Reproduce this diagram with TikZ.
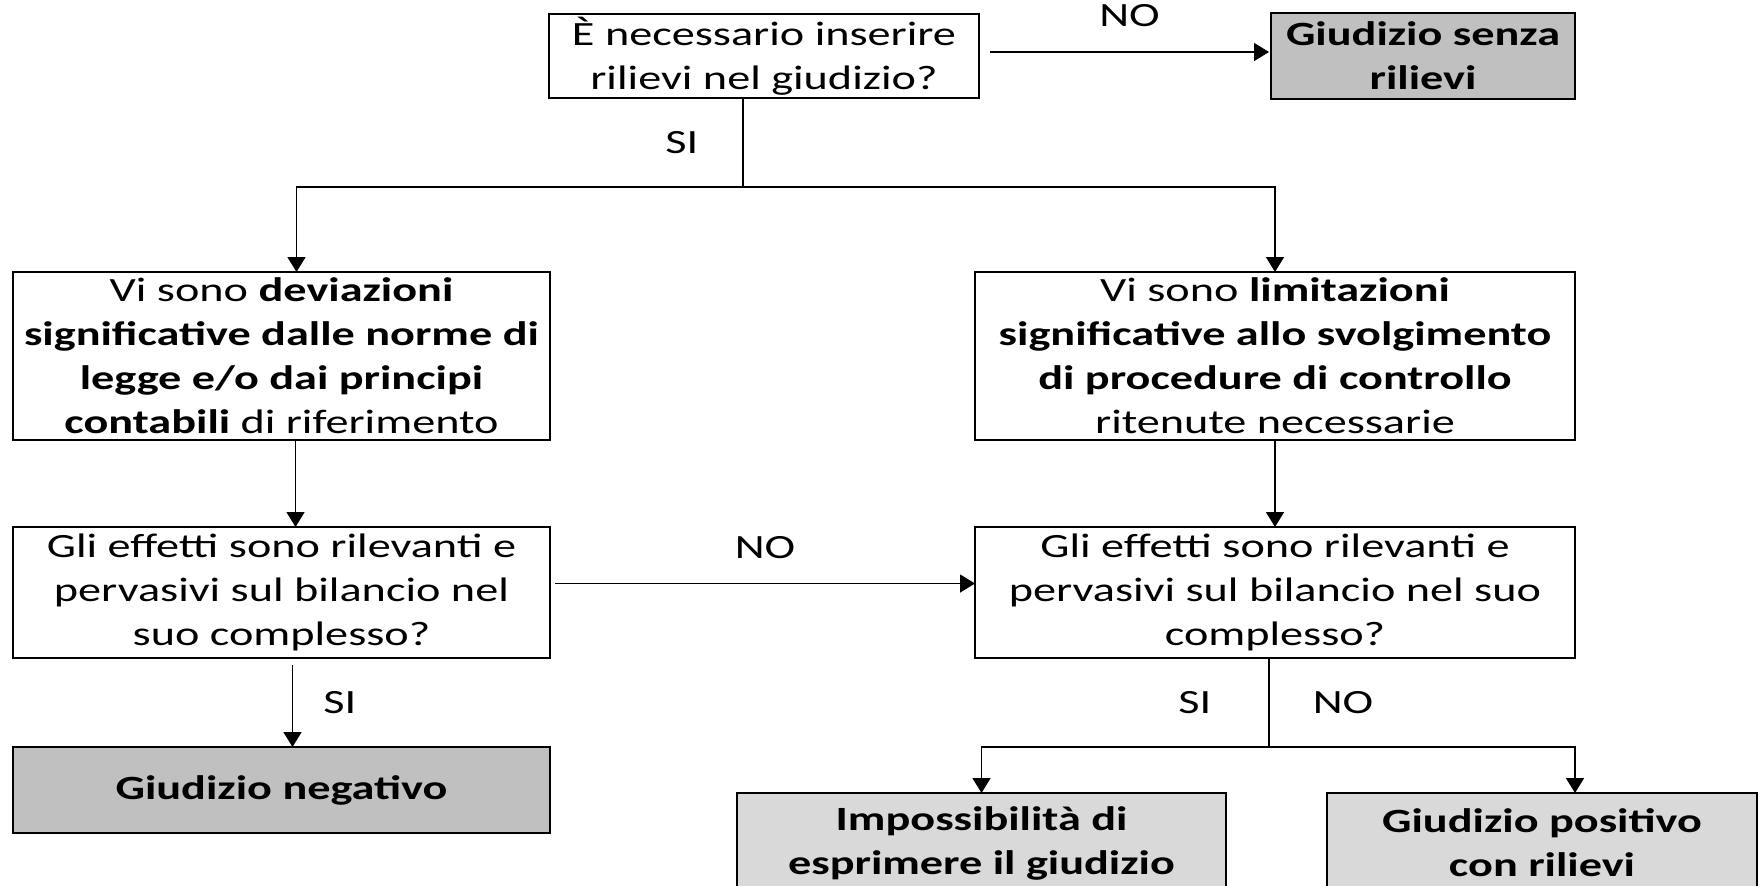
\documentclass[tikz,border=0pt]{standalone}
\usepackage{fontspec}
\setmainfont{Carlito}[FakeStretch=1.36]
\usepackage{tikz}
\usetikzlibrary{arrows.meta,positioning}
\definecolor{result grey}{HTML}{C0C0C0}
\definecolor{final grey}{HTML}{D9D9D9}
\tikzset{main node/.style={rectangle,draw,line width=2.7pt,inner sep=0pt,outer sep=0pt,align=center,font=\fontsize{34}{44}\selectfont},
         result node/.style={main node,fill=result grey,font=\fontsize{34}{44}\selectfont\bfseries},
         final node/.style={result node,fill=final grey},
         edge label/.style={rectangle,draw=none,fill=none,inner sep=0pt,font=\fontsize{34}{44}\selectfont}
}

\begin{document}
\begin{tikzpicture}[->,>={Triangle[length=15pt,width=18pt]},
x=1pt, y=-1pt,
line width=1.6pt]
\clip (0,0) rectangle (1764,886);

\node [main node, minimum width=430pt, minimum height=84pt] (0) at (764,56)
    {È necessario inserire\\ rilievi nel giudizio?};
\node [result node, minimum width=304pt, minimum height=86pt, right=292pt of 0] (1)
    {Giudizio senza\\ rilievi};
\node [main node, minimum width=537pt, minimum height=168pt] (2) at (281.5,356)
    {Vi sono \textbf{deviazioni}\\ \textbf{significative dalle norme di}\\
     \textbf{legge e/o dai principi}\\ \textbf{contabili} di riferimento};
\node [main node, minimum width=600pt, minimum height=168pt, right=425pt of 2] (3)
    {Vi sono \textbf{limitazioni}\\ \textbf{significative allo svolgimento}\\
     \textbf{di procedure di controllo}\\ ritenute necessarie};
\node [main node, minimum width=537pt, minimum height=131pt, below=87pt of 2] (4)
    {Gli effetti sono rilevanti e\\ pervasivi sul bilancio nel\\ suo complesso?};
\node [main node, minimum width=600pt, minimum height=131pt, right=425pt of 4] (5)
    {Gli effetti sono rilevanti e\\ pervasivi sul bilancio nel suo\\ complesso?};
\node [result node, minimum width=537pt, minimum height=86pt, below=89pt of 4] (6)
    {Giudizio negativo};
\node [final node, minimum width=489pt, minimum height=100pt] (7) at (981.5,843)
    {Impossibilità di\\ esprimere il giudizio};
\node [final node, minimum width=430pt, minimum height=100pt] (8) at (1542,843)
    {Giudizio positivo\\ con rilievi};

\coordinate (a) at (743,187);
\coordinate (b) at (1269,747);

\draw ([yshift=4pt,xshift=11pt]0.east) -- node [edge label, above=24pt] {NO} ([yshift=4pt,xshift=-2pt]1.west);
\draw [-] (0.south -| a) -- node [edge label, left=44pt] {SI} (a);
\draw (a) -| ([xshift=15pt]2.north);
\draw (a) -| (3.north);
\draw ([xshift=14pt]2.south) -- ([xshift=14pt]4.north);
\draw (3) -- (5);
\draw ([yshift=9pt,xshift=5pt]4.east) -- node [edge label, above=24pt] {NO} ([yshift=9pt]5.west);
\draw [shorten <=7pt] ([xshift=11pt]4.south) -- node [edge label, right=30pt] {SI} ([xshift=11pt]6.north);
\draw [-] (5.south -| b) -- node [edge label, left=57pt] {SI} node [edge label, right=43pt] {NO} (b);
\draw (b) -| (7.north);
\draw (b) -| ([xshift=33pt]8.north);
\end{tikzpicture}
\end{document}
